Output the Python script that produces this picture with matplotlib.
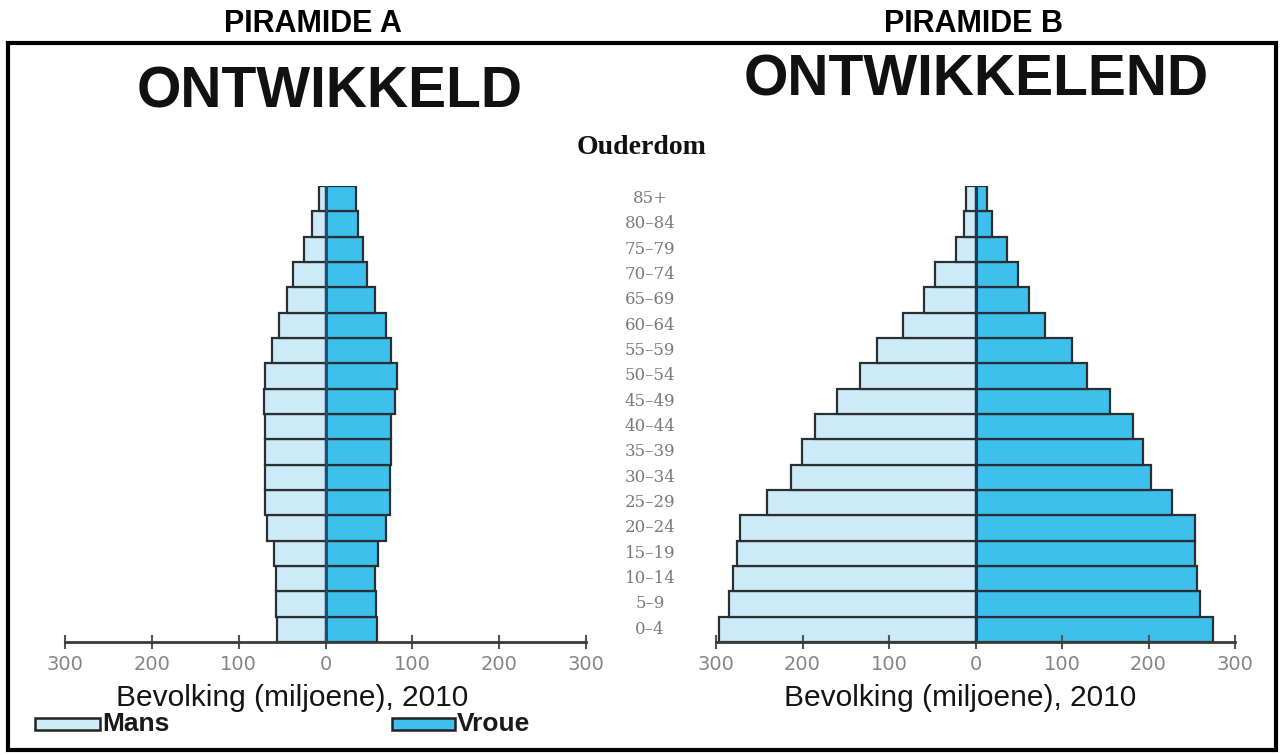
import matplotlib
matplotlib.use("Agg")
import matplotlib.pyplot as plt
from matplotlib.patches import Rectangle
from matplotlib.transforms import blended_transform_factory
import numpy as np

plt.rcParams['font.family'] = ['Liberation Sans', 'DejaVu Sans']

# Age groups, bottom to top
age_groups = ["0–4", "5–9", "10–14", "15–19", "20–24", "25–29", "30–34", "35–39",
              "40–44", "45–49", "50–54", "55–59", "60–64", "65–69", "70–74",
              "75–79", "80–84", "85+"]

# Piramide A (ontwikkeld), millions
mans_a = [56, 57, 57, 59, 67, 70, 70, 70, 70, 71, 70, 62, 54, 44, 37, 25, 15, 8]
vroue_a = [59, 58, 57, 61, 70, 74, 74, 76, 76, 80, 82, 76, 70, 57, 48, 43, 37, 35]

# Piramide B (ontwikkelend), millions
mans_b = [297, 285, 280, 276, 272, 241, 213, 201, 186, 160, 134, 114, 84, 60, 47, 23, 13, 11]
vroue_b = [274, 260, 256, 254, 254, 227, 203, 194, 182, 155, 129, 112, 80, 62, 49, 36, 19, 13]

tick_values = [-300, -200, -100, 0, 100, 200, 300]
tick_labels = ["300", "200", "100", "0", "100", "200", "300"]

MALE_COLOR = "#cdeaf9"
FEMALE_COLOR = "#3dc0ec"
EDGE = "#2a2f33"

W, H = 1280, 755
fig = plt.figure(figsize=(W / 100, H / 100), dpi=100)


def px(x, y):
    return x / W, 1 - y / H


def pyramid(x_left, x_right, mans, vroue, center_color):
    left, bottom = px(x_left, 642)
    ax = fig.add_axes([left, bottom, (x_right - x_left) / W, 456 / H])
    y = np.arange(len(age_groups))
    ax.barh(y, -np.array(mans), height=1.0, color=MALE_COLOR, edgecolor=EDGE, linewidth=1.6)
    ax.barh(y, vroue, height=1.0, color=FEMALE_COLOR, edgecolor=EDGE, linewidth=1.6)
    ax.axvline(0, color=center_color, linewidth=2.2)
    ax.set_xlim(-300, 300)
    ax.set_ylim(-0.5, len(age_groups) - 0.5)
    for s in ["top", "left", "right"]:
        ax.spines[s].set_visible(False)
    ax.spines["bottom"].set_color("#3a3a3a")
    ax.spines["bottom"].set_linewidth(2)
    ax.set_yticks([])
    ax.set_xticks(tick_values)
    ax.set_xticklabels(tick_labels, family="DejaVu Sans", fontsize=14, color="#858585")
    ax.tick_params(axis="x", direction="inout", length=10, width=1.5, color="#555555", pad=4)
    ax.patch.set_alpha(0)
    return ax

ax_a = pyramid(65, 586, mans_a, vroue_a, "#1f4f6e")
ax_b = pyramid(716, 1235, mans_b, vroue_b, "#163a5c")

# Age labels in the middle
trans = blended_transform_factory(fig.transFigure, ax_b.transData)
for i, lab in enumerate(age_groups):
    ax_b.text(650 / W, i, lab, transform=trans, ha="center", va="center",
              family="DejaVu Serif", fontsize=12, color="#7a7a7a")

fig.text(*px(642, 147), "Ouderdom", ha="center", va="center",
         family="Liberation Serif", fontweight="bold", fontsize=20, color="#111111")

# Headings
fig.text(*px(313, 24), "PIRAMIDE A", ha="center", va="center", fontweight="bold", fontsize=22)
fig.text(*px(974, 24), "PIRAMIDE B", ha="center", va="center", fontweight="bold", fontsize=22)
fig.text(*px(330, 93), "ONTWIKKELD", ha="center", va="center", fontweight="bold", fontsize=41,
         color="#111111")
fig.text(*px(976, 80), "ONTWIKKELEND", ha="center", va="center", fontweight="bold", fontsize=41,
         color="#111111")

# Axis titles
fig.text(*px(292, 698), "Bevolking (miljoene), 2010", ha="center", va="center", fontsize=21.5,
         color="#141414")
fig.text(*px(960, 698), "Bevolking (miljoene), 2010", ha="center", va="center", fontsize=21.5,
         color="#141414")

# Legend
for x0, x1, color, label in [(35, 100, MALE_COLOR, "Mans"), (392, 455, FEMALE_COLOR, "Vroue")]:
    l, b = px(x0, 730)
    fig.patches.append(Rectangle((l, b), (x1 - x0) / W, 12 / H, transform=fig.transFigure,
                                 facecolor=color, edgecolor="#222222", linewidth=1.8))
    fig.text(*px(x1 + 2, 724), label, ha="left", va="center", fontsize=19, fontweight="bold",
             color="#1a1a1a")

# Border
l, b = px(8, 750)
fig.patches.append(Rectangle((l, b), (1276 - 8) / W, (750 - 43) / H, transform=fig.transFigure,
                             facecolor="none", edgecolor="black", linewidth=3))

fig.savefig("out.png", dpi=100)
